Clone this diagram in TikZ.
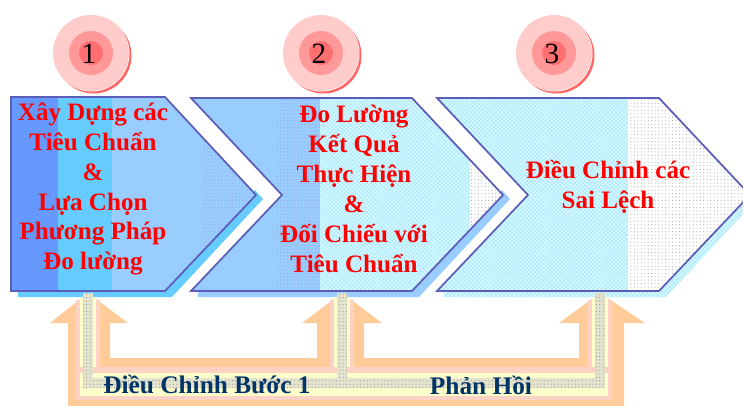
\documentclass[tikz,border=0pt]{standalone}
\usepackage{fontspec}
\setmainfont{Liberation Serif}
\usetikzlibrary{patterns.meta}
\definecolor{cBlueA}{HTML}{6699FF}
\definecolor{cBlueB}{HTML}{66CCFF}
\definecolor{cBlueC}{HTML}{99CCFF}
\definecolor{cCyan}{HTML}{CCFFFF}
\definecolor{cEdge}{HTML}{5B5DB8}
\definecolor{cOrange}{HTML}{FFCC99}
\definecolor{cYellow}{HTML}{FFFFCC}
\definecolor{cPink}{HTML}{FFCCCC}
\definecolor{cBlush}{HTML}{FBD2C4}
\definecolor{cRing}{HTML}{FF9999}
\definecolor{cCore}{HTML}{FF6F6F}
\definecolor{cNavy}{HTML}{003366}
\definecolor{cStone}{HTML}{E4E4CE}
\tikzset{
  dotsA/.style={pattern={Dots[radius=0.4pt,distance=2.6pt]},pattern color=#1},
  hatchA/.style={pattern={Hatch[angle=45,distance=2.2pt,line width=0.3pt]},pattern color=#1},
  redtext/.style={text=red,font=\fontsize{18.8}{22.4}\selectfont\bfseries,align=center,inner sep=0pt},
  navytext/.style={text=cNavy,font=\fontsize{19}{20}\selectfont\bfseries,inner sep=0pt},
  numtext/.style={text=black,font=\fontsize{22}{24}\selectfont,inner sep=0pt},
  edgeline/.style={draw=cEdge,line width=1.3pt,line join=miter},
}
\newcommand{\badge}[3]{%
  \fill[red!60!white] (#1+2.5,#2+2.5) circle (38);
  \fill[white] (#1+0.5,#2+0.5) circle (38);
  \fill[cPink] (#1,#2) circle (38);
  \fill[cRing] (#1,#2) circle (22);
  \fill[cCore] (#1,#2) circle (12);
  \node[numtext] (num#3) at (#1-2,#2+1) {#3};
}
\newcommand{\riserbase}[1]{%
  \fill[cBlush] (#1-12,300) rectangle (#1+12,400);
  \fill[cYellow] (#1-8,297) rectangle (#1+8,396);
}
\newcommand{\risercore}[1]{%
  \fill[cStone] (#1-5,293) rectangle (#1+5,388);
  \fill[dotsA=gray!90] (#1-5,293) rectangle (#1+5,388);
}
\begin{document}
\begin{tikzpicture}[x=0.75pt,y=-0.75pt]
\useasboundingbox (0,0) rectangle (743,405);
\clip (0,0) rectangle (743,405);
\fill[white] (0,0) rectangle (743,405);
% badges
\badge{91}{53}{1}
\badge{321}{53}{2}
\badge{554}{53}{3}
% shadows
\fill[cBlueB] (18,297) -- (172,297) -- (263,199) -- (255,190) -- (165,285) -- (18,285) -- cycle;
\fill[cBlueC] (198,297) -- (419,297) -- (510,199) -- (502,190) -- (412,285) -- (198,285) -- cycle;
\fill[cCyan] (444,297) -- (666,297) -- (757,199) -- (749,190) -- (659,285) -- (444,285) -- cycle;
\fill[hatchA=cBlueC!70] (444,297) -- (666,297) -- (757,199) -- (749,190) -- (659,285) -- (444,285) -- cycle;
% chevron 1
\begin{scope}
\clip (11,97) -- (165,97) -- (256,195) -- (165,291) -- (11,291) -- cycle;
\fill[cBlueA] (11,90) rectangle (58,300);
\fill[cBlueB] (58,90) rectangle (112,300);
\fill[cBlueC] (112,90) rectangle (260,300);
\fill[dotsA=cEdge!60] (202,90) rectangle (260,300);
\end{scope}
\draw[edgeline] (11,97) -- (165,97) -- (256,195) -- (165,291) -- (11,291) -- cycle;
% chevron 2
\begin{scope}
\clip (191,98) -- (412,98) -- (503,195) -- (412,291) -- (191,291) -- (282,195) -- cycle;
\fill[cBlueC] (185,90) rectangle (320,300);
\fill[dotsA=cEdge!60] (277,90) rectangle (320,300);
\fill[cCyan] (320,90) rectangle (510,300);
\fill[hatchA=cBlueC!70] (320,90) rectangle (510,300);
\fill[white] (470,90) rectangle (510,300);
\fill[dotsA=gray!70] (470,90) rectangle (510,300);
\end{scope}
\draw[edgeline] (191,98) -- (412,98) -- (503,195) -- (412,291) -- (191,291) -- (282,195) -- cycle;
% chevron 3
\begin{scope}
\clip (437,98) -- (659,98) -- (750,195) -- (659,291) -- (437,291) -- (528,195) -- cycle;
\fill[cCyan] (430,90) rectangle (628,300);
\fill[hatchA=cBlueC!70] (430,90) rectangle (628,300);
\fill[white] (628,90) rectangle (755,300);
\fill[dotsA=gray!70] (628,90) rectangle (755,300);
\end{scope}
\draw[edgeline] (437,98) -- (659,98) -- (750,195) -- (659,291) -- (437,291) -- (528,195) -- cycle;
% feedback arrows
\coordinate (tipA) at (88,293);
\coordinate (tipB) at (342,293);
\coordinate (tipC) at (600,293);
\fill[cOrange] (tipA) -- (128,323) -- (110,323) -- (110,358) -- (317,358) -- (317,323) -- (302,323)
  -- (tipB) -- (382,323) -- (364,323) -- (364,358) -- (579,358) -- (579,323) -- (559,323)
  -- (tipC) -- (645,323) -- (624,323) -- (624,410) -- (68,410) -- (68,323) -- (50,323) -- cycle;
\riserbase{88}
\riserbase{342}
\riserbase{600}
\fill[cBlush] (76,367) rectangle (612,400);
\fill[cYellow] (80,373) rectangle (608,396);
\fill[cStone] (83,378) rectangle (605,388);
\fill[dotsA=gray!90] (83,378) rectangle (605,388);
\risercore{88}
\risercore{342}
\risercore{600}
% labels
\node[redtext] (t1) at (93,189) {Xây Dựng các\\Tiêu Chuẩn\\\&\\Lựa Chọn\\Phương Pháp\\Đo lường};
\node[redtext] (t2) at (354,189) {Đo Lường\\Kết Quả\\Thực Hiện\\\&\\Đối Chiếu với\\Tiêu Chuẩn};
\node[redtext] (t3) at (608,187) {Điều Chỉnh các\\Sai Lệch};
\node[navytext] (l1) at (207,384) {Điều Chỉnh Bước 1};
\node[navytext] (l2) at (481,385) {Phản Hồi};
\end{tikzpicture}
\end{document}
